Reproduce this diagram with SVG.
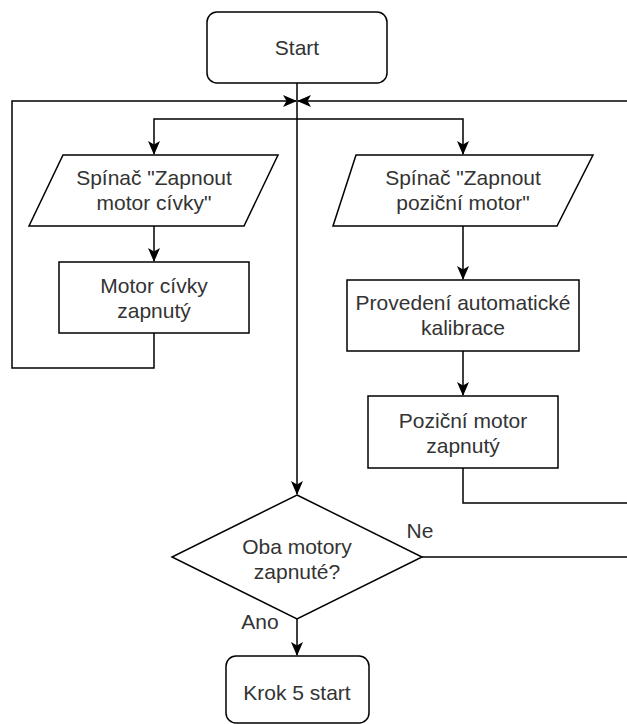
<svg xmlns="http://www.w3.org/2000/svg" width="627" height="724" viewBox="0 0 627 724">
  <style>
    .shape { fill: #ffffff; stroke: #000000; stroke-width: 1.5; }
    .edge { fill: none; stroke: #000000; stroke-width: 1.5; }
    text { font-family: "Liberation Sans", Arial, sans-serif; font-size: 21px; fill: #333333; text-anchor: middle; }
  </style>
  <defs>
    <!-- notched block arrowhead, tip at the path end -->
    <marker id="arrow" viewBox="0 0 14 12" refX="13" refY="6" markerWidth="14" markerHeight="12" markerUnits="userSpaceOnUse" orient="auto">
      <path d="M0,0 L14,6 L0,12 L3.5,6 Z" fill="#000000"/>
    </marker>
  </defs>
  <rect width="627" height="724" fill="#ffffff"/>

  <g id="connectors">
    <!-- main flow from Start down to the decision -->
    <path class="edge" d="M297,83 V494" marker-end="url(#arrow)"/>
    <!-- fork to both switches -->
    <path class="edge" d="M297,119 H154 V154" marker-end="url(#arrow)"/>
    <path class="edge" d="M297,119 H463 V154" marker-end="url(#arrow)"/>
    <!-- left branch -->
    <path class="edge" d="M154,226 V261" marker-end="url(#arrow)"/>
    <path class="edge" d="M154,333 V368 H12 V101 H296" marker-end="url(#arrow)"/>
    <!-- right branch -->
    <path class="edge" d="M463,226 V279" marker-end="url(#arrow)"/>
    <path class="edge" d="M463,351 V395" marker-end="url(#arrow)"/>
    <path class="edge" d="M463,468 V503 H640"/>
    <path class="edge" d="M640,101 H298" marker-end="url(#arrow)"/>
    <!-- decision outcomes -->
    <path class="edge" d="M422,557 H640"/>
    <path class="edge" d="M297,619 V655" marker-end="url(#arrow)"/>
    <text x="420" y="538">Ne</text>
    <text x="260" y="629">Ano</text>
  </g>

  <g id="start">
    <rect class="shape" x="207" y="12" width="180" height="71" rx="10" ry="10"/>
    <text x="297" y="54.5">Start</text>
  </g>

  <g id="switch-coil">
    <polygon class="shape" points="63,155 278,155 244,226 29,226"/>
    <text x="154" y="185">Spínač "Zapnout</text>
    <text x="154" y="210">motor cívky"</text>
  </g>

  <g id="coil-on">
    <rect class="shape" x="59" y="262" width="190" height="71"/>
    <text x="154" y="292.5">Motor cívky</text>
    <text x="154" y="317.5">zapnutý</text>
  </g>

  <g id="switch-position">
    <polygon class="shape" points="356,155 593,155 557,226 333,226"/>
    <text x="463" y="185">Spínač "Zapnout</text>
    <text x="463" y="210">poziční motor"</text>
  </g>

  <g id="calibration">
    <rect class="shape" x="347" y="280" width="232" height="71"/>
    <text x="463" y="310">Provedení automatické</text>
    <text x="463" y="335">kalibrace</text>
  </g>

  <g id="position-on">
    <rect class="shape" x="368" y="396" width="190" height="72"/>
    <text x="463" y="428">Poziční motor</text>
    <text x="463" y="453">zapnutý</text>
  </g>

  <g id="decision">
    <polygon class="shape" points="297,495 422,557 297,619 172,557"/>
    <text x="297" y="554">Oba motory</text>
    <text x="297" y="579">zapnuté?</text>
  </g>

  <g id="step5">
    <rect class="shape" x="226" y="656" width="143" height="67" rx="10" ry="10"/>
    <text x="297" y="700">Krok 5 start</text>
  </g>
</svg>
